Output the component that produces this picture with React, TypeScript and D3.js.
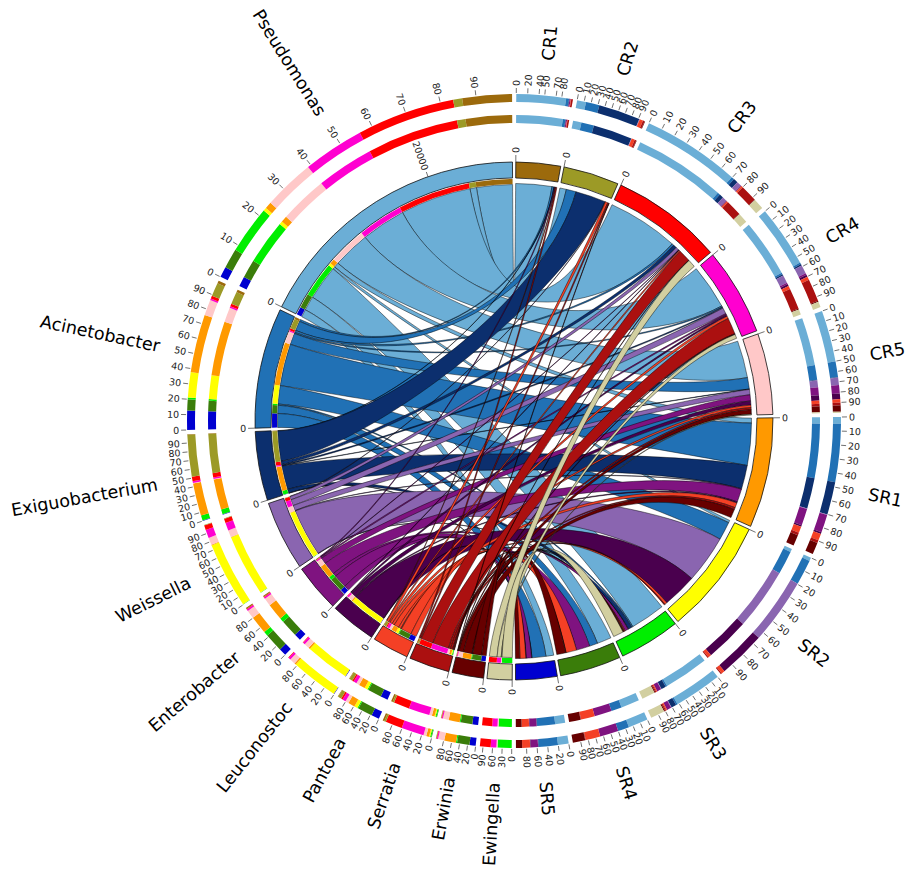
import React from "react";
import * as d3 from "d3";

const samples = ["CR1", "CR2", "CR3", "CR4", "CR5", "SR1", "SR2", "SR3", "SR4", "SR5"];
const genera = ["Pseudomonas", "Acinetobacter", "Exiguobacterium", "Weissella", "Enterobacter", "Leuconostoc", "Pantoea", "Serratia", "Erwinia", "Ewingella"];
const sampleColors = ["#9c6a0c", "#9c9a26", "#ff0000", "#ff00d0", "#ffc8c8", "#ff9900", "#ffff00", "#00ee00", "#3a7d0a", "#0000d0"];
const genusColors = ["#6baed6", "#2171b5", "#0c2f6e", "#8a65b0", "#7f1380", "#4a004e", "#f44025", "#ab1010", "#670000", "#d2cfa0"];

// Reads per genus (same order as `genera`) for each sample
const readsCR1 = [3960, 225, 45, 0, 90, 0, 45, 135, 0, 0];
const readsCR2 = [720, 1080, 3330, 45, 0, 0, 270, 135, 45, 0];
const readsCR3 = [7830, 225, 360, 360, 45, 45, 135, 1350, 45, 855];
const readsCR4 = [4905, 135, 135, 675, 135, 180, 270, 1800, 90, 450];
const readsCR5 = [4095, 1260, 45, 585, 675, 450, 270, 225, 495, 90];
const readsSR1 = [540, 4635, 2610, 45, 1440, 135, 540, 225, 945, 0];
const readsSR2 = [270, 2025, 0, 5265, 0, 3780, 270, 90, 0, 0];
const readsSR3 = [3825, 135, 405, 45, 360, 0, 90, 90, 90, 1125];
const readsSR4 = [1575, 900, 0, 0, 1485, 0, 1170, 45, 990, 0];
const readsSR5 = [855, 1530, 45, 0, 585, 45, 630, 0, 495, 0];
const matrix = [readsCR1, readsCR2, readsCR3, readsCR4, readsCR5, readsSR1, readsSR2, readsSR3, readsSR4, readsSR5];

const tens = [0, 10, 20, 30, 40, 50, 60, 70, 80, 90];
const evens = [0, 20, 40, 60, 80];
const sampleTicks = [[0, 20, 40, 50, 70, 80], tens, tens, tens, tens, tens, tens, tens, tens, evens];
const genusTicks = [tens, tens, tens, tens, evens, evens, evens, evens, evens, [0, 30, 60, 90]];
const pseudomonasTickValue = 20000;

const W = 909, H = 876, CX = 514, CY = 421;
const R_RING1 = [319, 327], R_RING2 = [298, 306], R_BAND = [243, 259], R_THIN = [237, 242];
const R_RIBBON_S = 237.5, R_RIBBON_G = 236.5;
const GAP = (0.74 * Math.PI) / 180;
const START = (0.4 * Math.PI) / 180;

const deg = (a: number) => (a * 180) / Math.PI;
const pt = (a: number, r: number): [number, number] => [r * Math.sin(a), -r * Math.cos(a)];

type Seg = { start: number; end: number; color: string; other: number; value: number };
type Sector = { name: string; color: string; start: number; end: number; total: number; segs: Seg[]; ticks: number[]; isGenus: boolean };

const sampleTotals = matrix.map((r) => d3.sum(r));
const genusTotals = genera.map((_, j) => d3.sum(matrix, (r) => r[j]));
const grand = d3.sum(sampleTotals) + d3.sum(genusTotals);
const angle = d3.scaleLinear().domain([0, grand]).range([0, 2 * Math.PI - 20 * GAP]);

const sectors: Sector[] = [];
let cursor = START;
samples.forEach((name, i) => {
  const start = cursor;
  let c = start;
  const segs = genera.map((_, j) => {
    const w = angle(matrix[i][j]);
    const s = { start: c, end: c + w, color: genusColors[j], other: j, value: matrix[i][j] };
    c += w;
    return s;
  });
  sectors.push({ name, color: sampleColors[i], start, end: c, total: sampleTotals[i], segs, ticks: sampleTicks[i], isGenus: false });
  cursor = c + GAP;
});
const genusOrder = d3.range(9, -1, -1);
genusOrder.forEach((j) => {
  const start = cursor;
  let c = start;
  const segs = d3.range(9, -1, -1).map((i) => {
    const w = angle(matrix[i][j]);
    const s = { start: c, end: c + w, color: sampleColors[i], other: i, value: matrix[i][j] };
    c += w;
    return s;
  });
  sectors.push({ name: genera[j], color: genusColors[j], start, end: c, total: genusTotals[j], segs, ticks: genusTicks[j], isGenus: true });
  cursor = c + GAP;
});

const ringPath = (a0: number, a1: number, r0: number, r1: number) =>
  d3.arc()({ innerRadius: r0, outerRadius: r1, startAngle: a0, endAngle: a1 }) as string;

const edge = (p: d3.Path, a: number, ra: number, b: number, rb: number) => {
  let diff = Math.abs(a - b) % (2 * Math.PI);
  if (diff > Math.PI) diff = 2 * Math.PI - diff;
  const k = 0.38 + (0.3 * diff) / Math.PI;
  const c1 = pt(a, ra * k), c2 = pt(b, rb * k), e = pt(b, rb);
  p.bezierCurveTo(c1[0], c1[1], c2[0], c2[1], e[0], e[1]);
};

const ribbon = (a0: number, a1: number, b0: number, b1: number) => {
  const p = d3.path();
  const s = pt(a0, R_RIBBON_S);
  p.moveTo(s[0], s[1]);
  p.arc(0, 0, R_RIBBON_S, a0 - Math.PI / 2, a1 - Math.PI / 2);
  edge(p, a1, R_RIBBON_S, b0, R_RIBBON_G);
  p.arc(0, 0, R_RIBBON_G, b0 - Math.PI / 2, b1 - Math.PI / 2);
  edge(p, b1, R_RIBBON_G, a0, R_RIBBON_S);
  p.closePath();
  return p.toString();
};

const ribbons = d3.range(10).flatMap((j) => {
  const gs = sectors[10 + (9 - j)];
  return d3.range(10).flatMap((i) => {
    if (!matrix[i][j]) return [];
    const a = sectors[i].segs[j];
    const b = gs.segs[9 - i];
    return [{ key: `${i}-${j}`, color: genusColors[j], d: ribbon(a.start, a.end, b.start, b.end) }];
  });
});

const radialText = (a: number, r: number, text: string, size: number, fill: string, key: string) => {
  const d = deg(a);
  const [x, y] = pt(a, r);
  const right = d < 180;
  return (
    <text
      key={key}
      transform={`translate(${x},${y}) rotate(${right ? d - 90 : d + 90})`}
      textAnchor={right ? "start" : "end"}
      dominantBaseline="central"
      fontSize={size}
      fill={fill}
    >
      {text}
    </text>
  );
};

const tickLine = (a: number, r0: number, r1: number, key: string) => {
  const p0 = pt(a, r0), p1 = pt(a, r1);
  return <line key={key} x1={p0[0]} y1={p0[1]} x2={p1[0]} y2={p1[1]} stroke="#333" strokeWidth={0.7} />;
};

export default function App() {
  return (
    <svg
      width={W}
      height={H}
      viewBox={`0 0 ${W} ${H}`}
      style={{ position: "absolute", left: 0, top: 0, background: "#fff" }}
      fontFamily="'DejaVu Sans', sans-serif"
    >
      <g transform={`translate(${CX},${CY})`}>
        <g>
          {ribbons.map((r) => (
            <path key={r.key} d={r.d} fill={r.color} stroke="#000" strokeWidth={0.6} strokeOpacity={0.75} />
          ))}
        </g>
        {sectors.map((s) => {
          const pos = d3.scaleLinear().domain([0, 100]).range([s.start, s.end]);
          const mid = (s.start + s.end) / 2;
          return (
            <g key={s.name}>
              <path d={ringPath(s.start, s.end, R_BAND[0], R_BAND[1])} fill={s.color} stroke="#111" strokeWidth={0.8} />
              {s.segs.filter((g) => g.value > 0).map((g) => (
                <g key={g.other}>
                  <path d={ringPath(g.start, g.end, R_RING1[0], R_RING1[1])} fill={g.color} />
                  <path d={ringPath(g.start, g.end, R_RING2[0], R_RING2[1])} fill={g.color} />
                  {s.isGenus && <path d={ringPath(g.start, g.end, R_THIN[0], R_THIN[1])} fill={g.color} />}
                </g>
              ))}
              {s.ticks.map((t) => (
                <g key={t}>
                  {tickLine(pos(t), R_RING1[1] + 1, R_RING1[1] + 6, `l${t}`)}
                  {radialText(pos(t), R_RING1[1] + 8, String(t), 9.5, "#222", `t${t}`)}
                </g>
              ))}
              {tickLine(s.start, R_BAND[1], R_BAND[1] + 7, "inner")}
              {radialText(s.start, R_BAND[1] + 9, "0", 9.5, "#222", "innerLabel")}
              {s.name === "Pseudomonas" && (
                <g>
                  {tickLine(s.start + angle(pseudomonasTickValue), R_BAND[1], R_BAND[1] + 5, "k")}
                  {radialText(s.start + angle(pseudomonasTickValue), R_BAND[1] + 7, String(pseudomonasTickValue), 9.5, "#222", "kLabel")}
                </g>
              )}
              {radialText(mid, 362, s.name, 17.5, "#000", "name")}
            </g>
          );
        })}
      </g>
    </svg>
  );
}
